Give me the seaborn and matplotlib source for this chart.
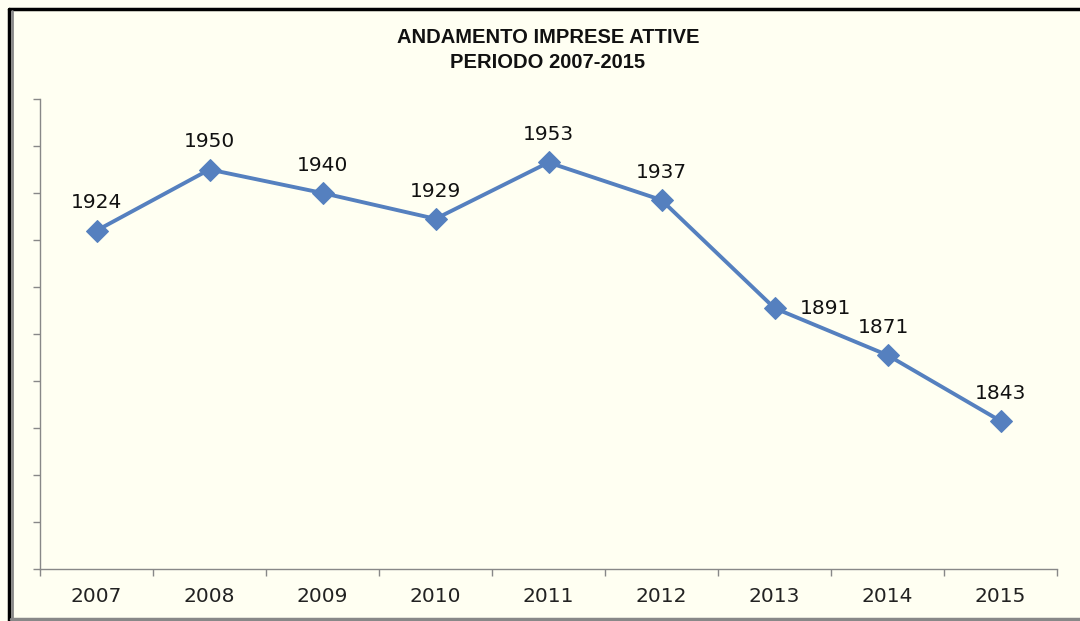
import matplotlib
matplotlib.use("Agg")
import matplotlib.pyplot as plt
import seaborn as sns
import pandas as pd
from matplotlib.lines import Line2D

# dati
anni = ["2007", "2008", "2009", "2010", "2011", "2012", "2013", "2014", "2015"]
imprese = [1924, 1950, 1940, 1929, 1953, 1937, 1891, 1871, 1843]

# posizione etichette (dx, dy in punti)
offset_etichette = [(0, 20), (0, 20), (0, 20), (0, 20), (0, 20), (0, 20), (18, 0), (-3, 20), (0, 20)]

sns.set_style("white")
plt.rcParams["font.family"] = ["DejaVu Sans"]

df = pd.DataFrame({"pos": range(len(anni)), "imprese": imprese})

sfondo = "#FFFFF2"
colore = "#5580BF"

fig = plt.figure(figsize=(10.8, 6.21), dpi=100, facecolor=sfondo)
ax = fig.add_axes([40 / 1080, 52 / 621, 1017 / 1080, 470 / 621])
ax.set_facecolor(sfondo)

sns.lineplot(data=df, x="pos", y="imprese", ax=ax, color=colore, linewidth=2.8,
             marker="D", markersize=11, markeredgecolor=colore)

for i, v in enumerate(imprese):
    dx, dy = offset_etichette[i]
    ha = "left" if dx > 10 else "center"
    ax.annotate(str(v), (i, v), xytext=(dx, dy), textcoords="offset points",
                ha=ha, va="center", fontsize=14.5, color="#111111")

ax.set_xlim(-0.5, len(anni) - 0.5)
ax.set_ylim(1780, 1980)
ax.set_yticks(range(1780, 1981, 20))
ax.set_yticklabels([])
ax.set_xticks([i - 0.5 for i in range(len(anni) + 1)])
ax.set_xticklabels([])
ax.set_xticks(range(len(anni)), minor=True)
ax.set_xticklabels(anni, minor=True, fontsize=14.5, color="#222222")
ax.tick_params(axis="x", which="major", direction="out", length=5, color="#888888", width=1, bottom=True)
ax.tick_params(axis="x", which="minor", length=0, pad=13, bottom=True)
ax.tick_params(axis="y", direction="out", length=5, color="#888888", width=1, left=True)
ax.set_xlabel("")
ax.set_ylabel("")

for s in ["top", "right"]:
    ax.spines[s].set_visible(False)
for s in ["left", "bottom"]:
    ax.spines[s].set_color("#888888")
    ax.spines[s].set_linewidth(1)

fig.text(548 / 1080, 1 - 50 / 621, "ANDAMENTO IMPRESE ATTIVE\nPERIODO 2007-2015",
         ha="center", va="center", fontsize=14.5, fontweight="bold",
         family=["Liberation Sans", "DejaVu Sans"], linespacing=1.35, color="#111111")

# cornice
fig.add_artist(Line2D([9 / 1080, 9 / 1080], [0, 1 - 9 / 621], transform=fig.transFigure, color="black", lw=2.5))
fig.add_artist(Line2D([9 / 1080, 1], [1 - 9 / 621, 1 - 9 / 621], transform=fig.transFigure, color="black", lw=2.5))
fig.add_artist(Line2D([11.5 / 1080, 11.5 / 1080], [0, 1 - 11 / 621], transform=fig.transFigure, color="#888888", lw=2))
fig.add_artist(Line2D([11 / 1080, 1], [2 / 621, 2 / 621], transform=fig.transFigure, color="#888888", lw=2.5))

fig.savefig("out.png", dpi=100, facecolor=sfondo)
